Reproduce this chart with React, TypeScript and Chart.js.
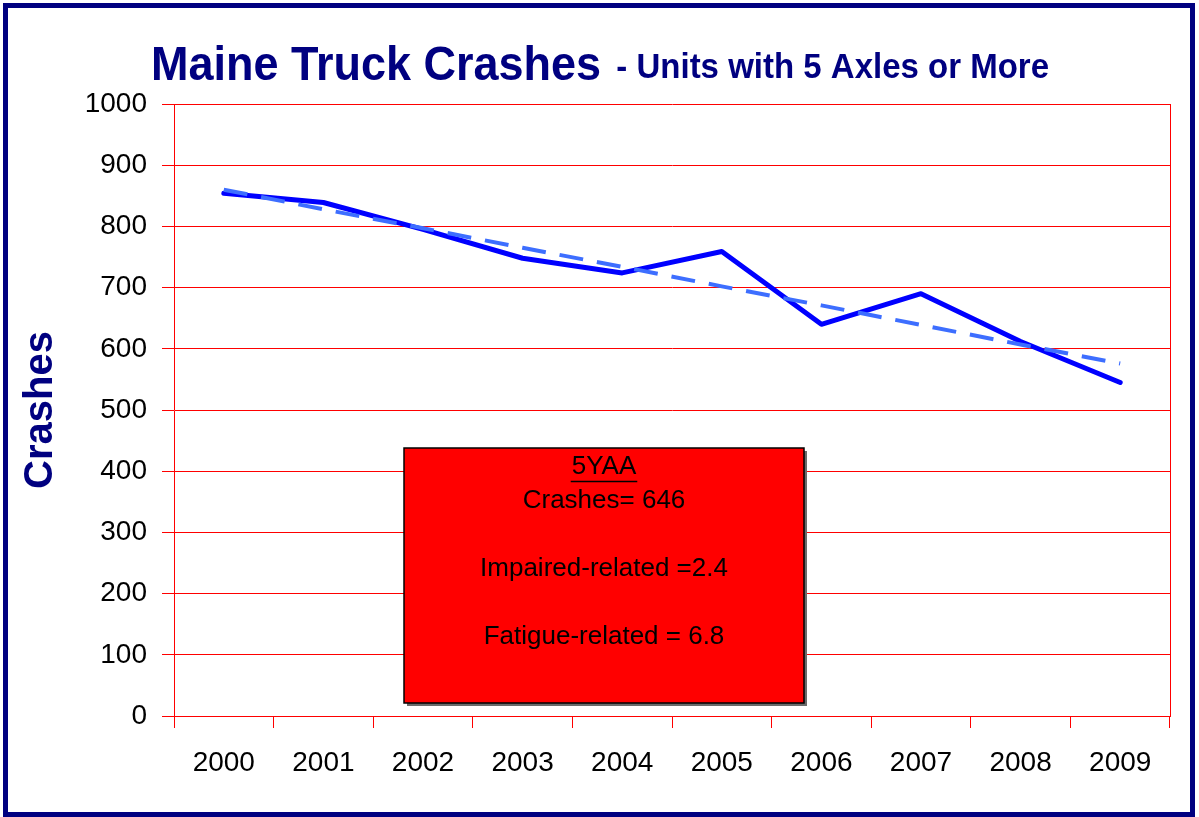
import React, { useEffect, useRef } from 'react';
import { Chart, registerables } from 'chart.js';

Chart.register(...registerables);

const years = ['2000', '2001', '2002', '2003', '2004', '2005', '2006', '2007', '2008', '2009'];
const crashes = [854, 839, 795, 748, 724, 759, 640, 690, 612, 545];
const trend = [860, 828, 797, 765, 734, 702, 671, 639, 607, 576];
const yMin = 0;
const yMax = 1000;
const yStep = 100;
const titleMain = 'Maine Truck Crashes';
const titleSub = ' - Units with 5 Axles or More';
const yAxisTitle = 'Crashes';
const boxHeader = '5YAA';
const boxLines = ['Crashes= 646', '', 'Impaired-related =2.4', '', 'Fatigue-related = 6.8'];

const NAVY = '#000080';
const RED = '#FF0000';
const FONT = '"Liberation Sans", Arial, sans-serif';

const decorPlugin = {
  id: 'decor',
  afterDraw(chart: any) {
    const ctx = chart.ctx as CanvasRenderingContext2D;
    const area = chart.chartArea;
    ctx.save();

    // right border of plot area
    ctx.strokeStyle = RED;
    ctx.lineWidth = 1;
    ctx.beginPath();
    ctx.moveTo(Math.round(area.right) + 0.5, area.top);
    ctx.lineTo(Math.round(area.right) + 0.5, area.bottom);
    ctx.stroke();

    // title (slightly tall, condensed look)
    ctx.fillStyle = NAVY;
    ctx.textBaseline = 'alphabetic';
    ctx.textAlign = 'left';
    const f1 = `bold 45px ${FONT}`;
    const f2 = `bold 33px ${FONT}`;
    ctx.font = f1;
    const w1 = ctx.measureText(titleMain).width;
    ctx.font = f2;
    const w2 = ctx.measureText(titleSub).width;
    const gap = 6;
    const startX = 600 - (w1 + w2 + gap) / 2;
    ctx.save();
    ctx.translate(0, 80);
    ctx.scale(1, 1.08);
    ctx.font = f1;
    ctx.fillText(titleMain, startX, 0);
    ctx.font = f2;
    ctx.fillText(titleSub, startX + w1 + gap, -2);
    ctx.restore();

    // annotation box
    const bx = 404, by = 448, bw = 400, bh = 255;
    ctx.fillStyle = '#6b6b6b';
    ctx.fillRect(bx + 3, by + 3, bw, bh);
    ctx.fillStyle = RED;
    ctx.fillRect(bx, by, bw, bh);
    ctx.strokeStyle = '#000000';
    ctx.lineWidth = 1.5;
    ctx.strokeRect(bx, by, bw, bh);

    const cx = bx + bw / 2;
    ctx.fillStyle = '#000000';
    ctx.textAlign = 'center';
    ctx.textBaseline = 'middle';
    ctx.font = `26px ${FONT}`;
    ctx.fillText(boxHeader, cx, 467);
    const hw = ctx.measureText(boxHeader).width;
    ctx.lineWidth = 1.5;
    ctx.beginPath();
    ctx.moveTo(cx - hw / 2 - 1, 481.5);
    ctx.lineTo(cx + hw / 2 + 1, 481.5);
    ctx.stroke();
    boxLines.forEach((t, i) => {
      if (t) ctx.fillText(t, cx, 501 + i * 34);
    });

    // outer frame
    ctx.strokeStyle = NAVY;
    ctx.lineWidth = 5;
    ctx.strokeRect(5.5, 5.5, 1187, 809);

    ctx.restore();
  },
};

export default function App() {
  const ref = useRef<HTMLCanvasElement | null>(null);

  useEffect(() => {
    if (!ref.current) return;
    const chart = new Chart(ref.current, {
      type: 'line',
      data: {
        labels: years,
        datasets: [
          {
            label: 'Crashes',
            data: crashes,
            borderColor: '#0000FF',
            borderWidth: 5,
            pointRadius: 0,
            tension: 0,
            borderJoinStyle: 'round',
            borderCapStyle: 'round',
            order: 1,
          },
          {
            label: 'Trend',
            data: trend,
            borderColor: '#3D6EFF',
            borderWidth: 4,
            borderDash: [24, 14],
            pointRadius: 0,
            tension: 0,
            order: 0,
          },
        ],
      },
      options: {
        responsive: false,
        animation: false,
        events: [],
        layout: { padding: { left: 0, top: 104, right: 29, bottom: 0 } },
        plugins: {
          legend: { display: false },
          title: { display: false },
          tooltip: { enabled: false },
        },
        scales: {
          x: {
            offset: true,
            grid: {
              offset: true,
              drawOnChartArea: false,
              color: RED,
              tickLength: 12,
              tickColor: RED,
            },
            border: { color: RED, width: 1 },
            ticks: {
              color: '#000000',
              font: { family: FONT, size: 28 },
              padding: 18,
              maxRotation: 0,
              autoSkip: false,
            },
            afterFit(scale: any) {
              scale.height = 101;
            },
          },
          y: {
            min: yMin,
            max: yMax,
            ticks: {
              stepSize: yStep,
              color: '#000000',
              font: { family: FONT, size: 28 },
              padding: 15,
              callback: (v: any) => String(v),
            },
            grid: { color: RED, tickLength: 12, lineWidth: 1 },
            border: { color: RED, width: 1 },
            title: {
              display: true,
              text: yAxisTitle,
              color: NAVY,
              font: { family: FONT, size: 40, weight: 'bold', lineHeight: 1 },
              padding: { top: 21, bottom: 0 },
            },
            afterFit(scale: any) {
              scale.width = 174;
            },
          },
        },
      },
      plugins: [decorPlugin],
    });
    return () => chart.destroy();
  }, []);

  return (
    <div style={{ position: 'fixed', left: 0, top: 0, width: 1199, height: 817, background: '#fff' }}>
      <canvas ref={ref} width={1199} height={817} style={{ width: 1199, height: 817, display: 'block' }} />
    </div>
  );
}
